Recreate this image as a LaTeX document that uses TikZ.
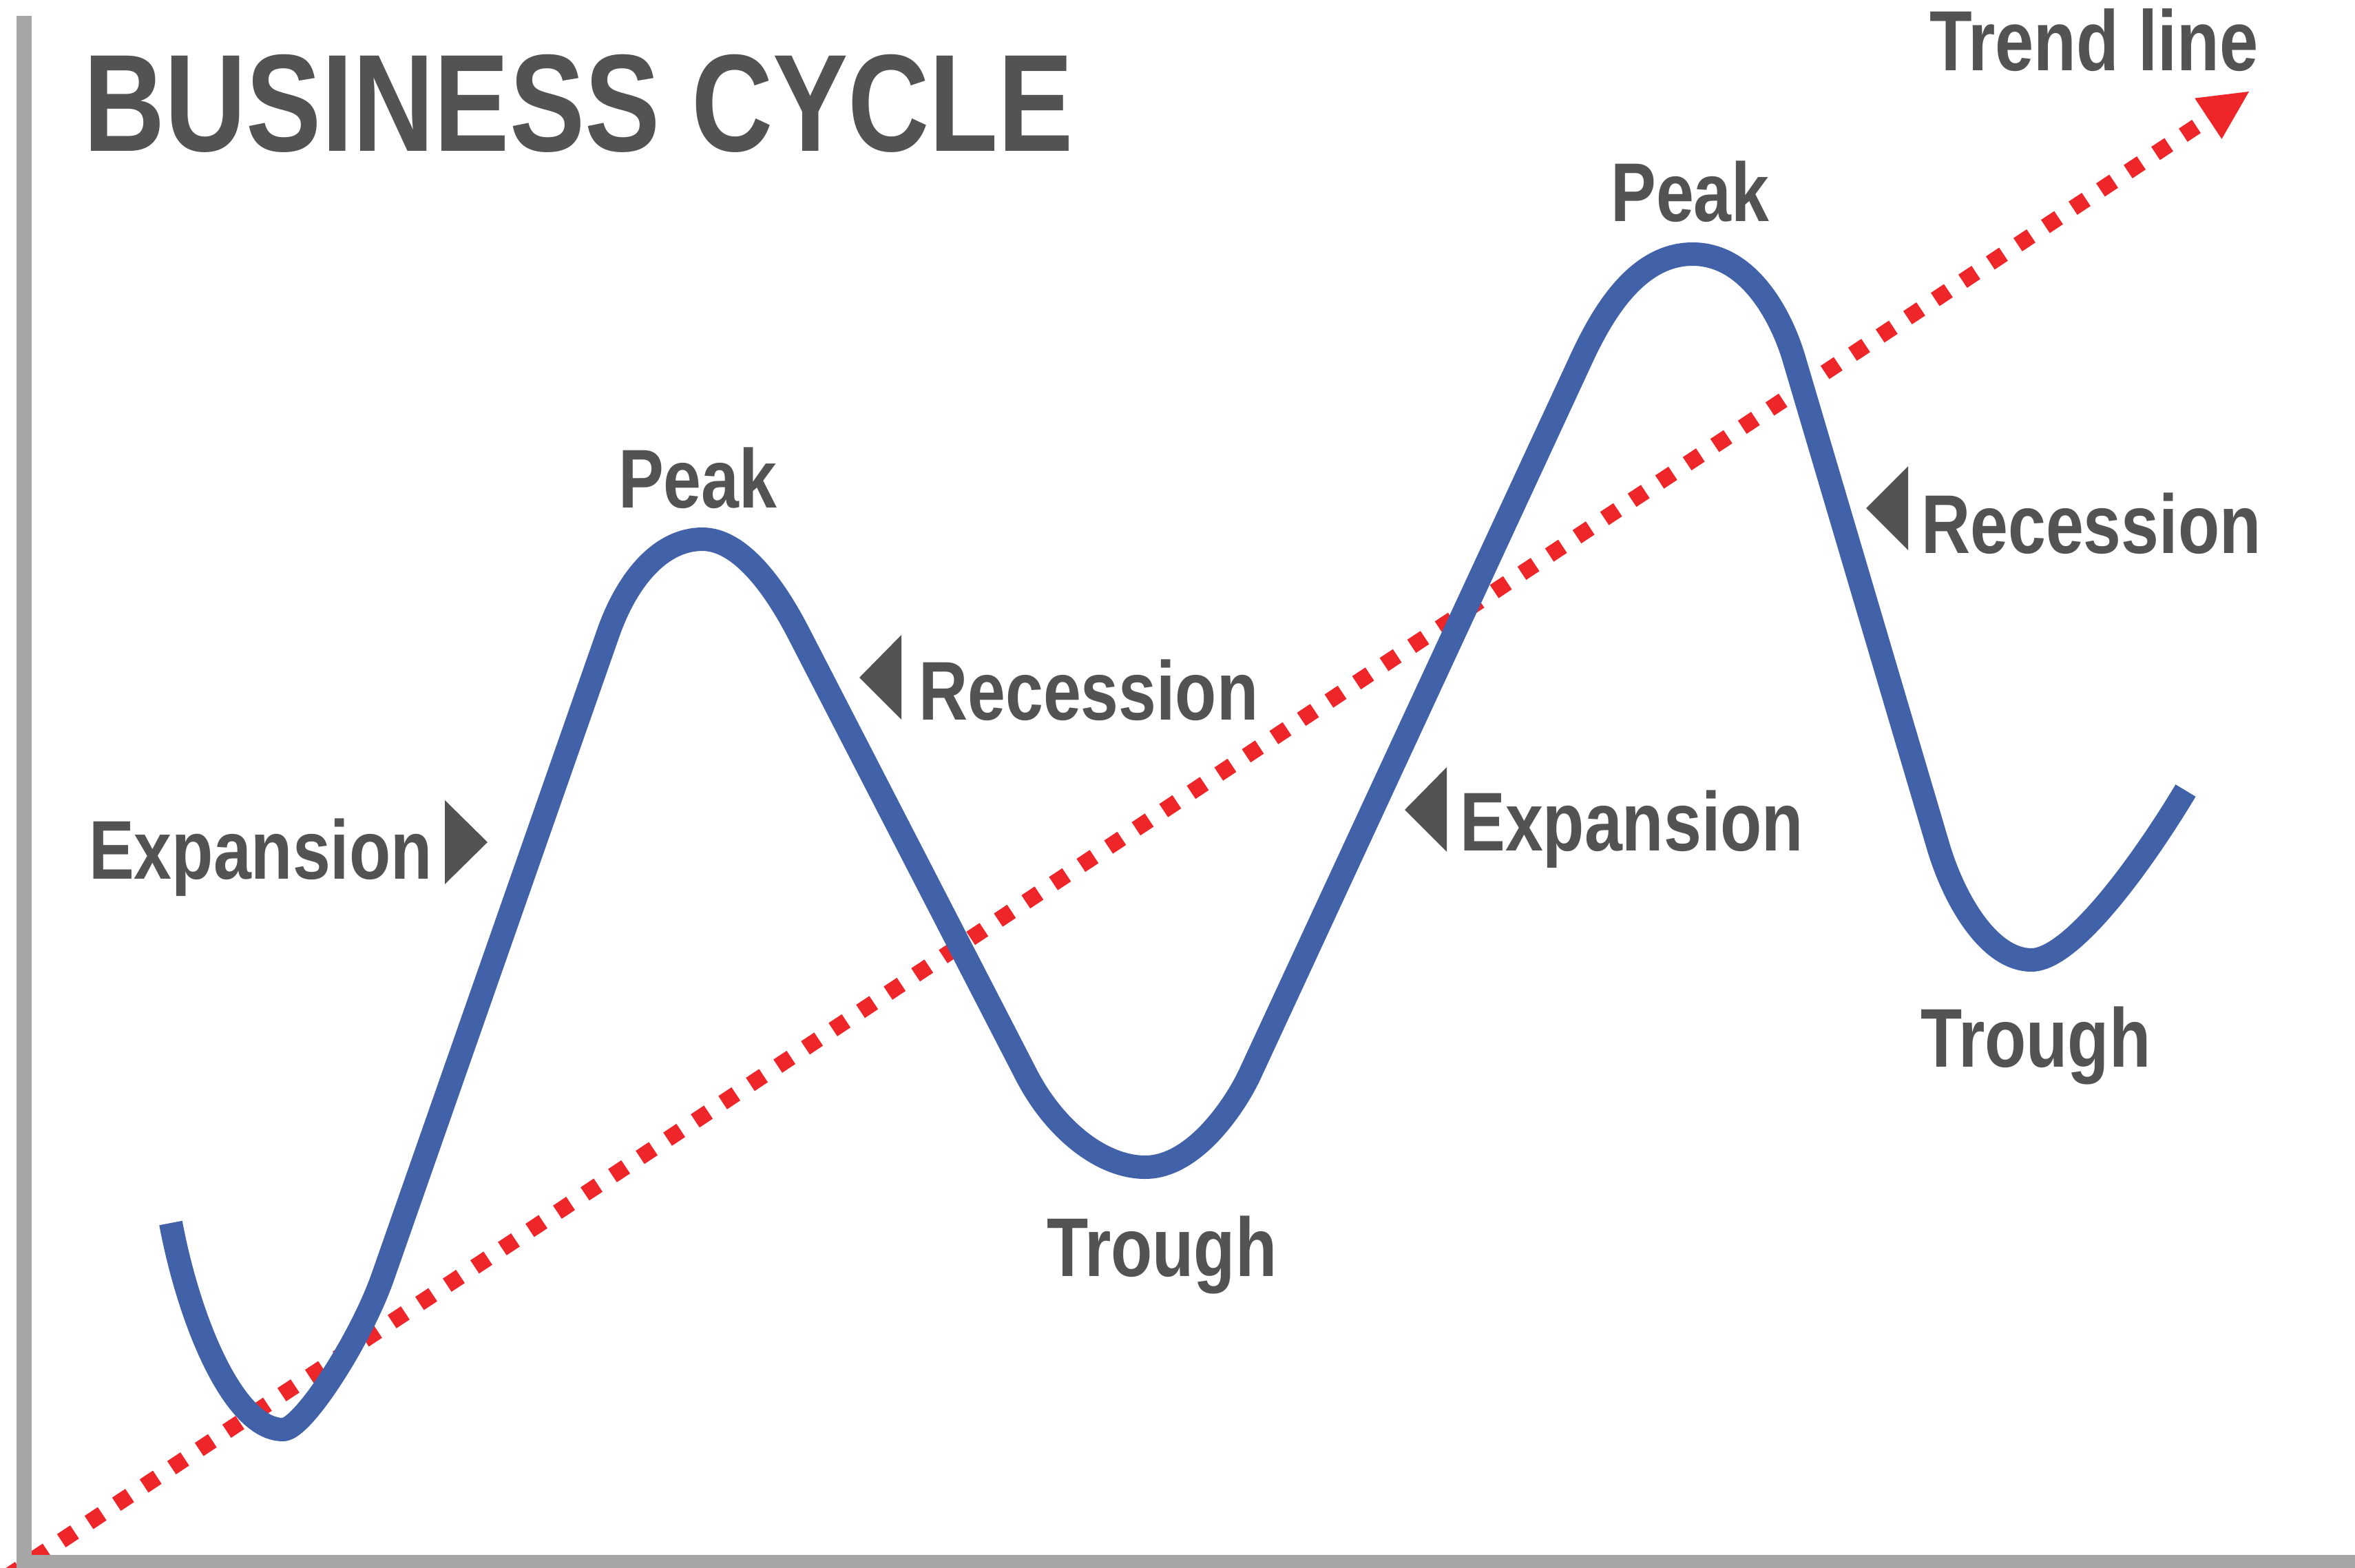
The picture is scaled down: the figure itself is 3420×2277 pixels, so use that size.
\documentclass[tikz,border=0pt]{standalone}
\usepackage{fontspec}
\newfontfamily\lab{Liberation Sans}[FakeStretch=0.815]
\usetikzlibrary{arrows.meta}
\definecolor{txtgray}{RGB}{83,83,83}
\definecolor{axgray}{RGB}{166,166,166}
\definecolor{cycblue}{RGB}{65,97,169}
\definecolor{trendred}{RGB}{238,37,41}
\begin{document}
\begin{tikzpicture}[x=1pt,y=-1pt,
  lbl/.style={inner sep=0pt, anchor=base west, text=txtgray, font=\lab\bfseries\fontsize{121}{121}\selectfont},
  ttl/.style={inner sep=0pt, anchor=base west, text=txtgray, font=\lab\bfseries\fontsize{201}{201}\selectfont},
  cyclepath/.style={draw=cycblue, line width=34pt, line cap=butt, line join=round},
  trend/.style={draw=trendred, line width=23pt, line cap=butt, dash pattern=on 23pt off 25pt,
    -{Triangle[length=71pt,width=71pt,line width=0pt]}},
  marker/.style={fill=txtgray},
  axis/.style={fill=axgray}
]
\useasboundingbox (0,0) rectangle (3420,2277);
\fill[white] (0,0) rectangle (3420,2277);

% trend line
\coordinate (ts) at (9.1,2290.4);
\coordinate (tip) at (3266,133);
\draw[trend] (ts) -- (tip);

% business cycle curve
\draw[cyclepath] (248,1776) .. controls (275,1920) and (340,2076) .. (411,2076)
 .. controls (440,2076) and (524.5,1944) .. (556,1854)
 -- (883,920)
 .. controls (911,840) and (960,783) .. (1020,783)
 .. controls (1075,783) and (1125,852) .. (1160,920)
 -- (1490,1560)
 .. controls (1531,1640) and (1600,1695) .. (1663,1695)
 .. controls (1735,1695) and (1795,1603) .. (1815,1560)
 -- (2297,520)
 .. controls (2325,460) and (2375,369) .. (2458,369)
 .. controls (2540,369) and (2587,460) .. (2605,520)
 -- (2815,1230)
 .. controls (2839,1310) and (2890,1394) .. (2950,1394)
 .. controls (3010,1394) and (3114,1248) .. (3174,1148);

% axes
\fill[axis] (24,23) rectangle (46,2277);
\fill[axis] (24,2258) rectangle (3420,2277);

% direction markers
\fill[marker] (646,1162) -- (708,1223) -- (646,1284) -- cycle;
\fill[marker] (1309,922) -- (1248,984) -- (1309,1045) -- cycle;
\fill[marker] (2771,677) -- (2710,738) -- (2771,799) -- cycle;
\fill[marker] (2101,1114) -- (2040,1176) -- (2101,1237) -- cycle;

% texts
\node[ttl] (title) at (121,219) {BUSINESS CYCLE};
\node[lbl, font=\lab\bfseries\fontsize{124}{124}\selectfont] (trendlbl) at (2802,103) {Trend line};
\node[lbl] (peakA) at (898,737) {Peak};
\node[lbl] (peakB) at (2339,321) {Peak};
\node[lbl] (recA) at (1334,1045) {Recession};
\node[lbl] (recB) at (2790,803) {Recession};
\node[lbl] (expA) at (129,1276) {Expansion};
\node[lbl] (expB) at (2120,1235) {Expansion};
\node[lbl] (troA) at (1520,1853) {Trough};
\node[lbl] (troB) at (2789,1549) {Trough};
\end{tikzpicture}
\end{document}
